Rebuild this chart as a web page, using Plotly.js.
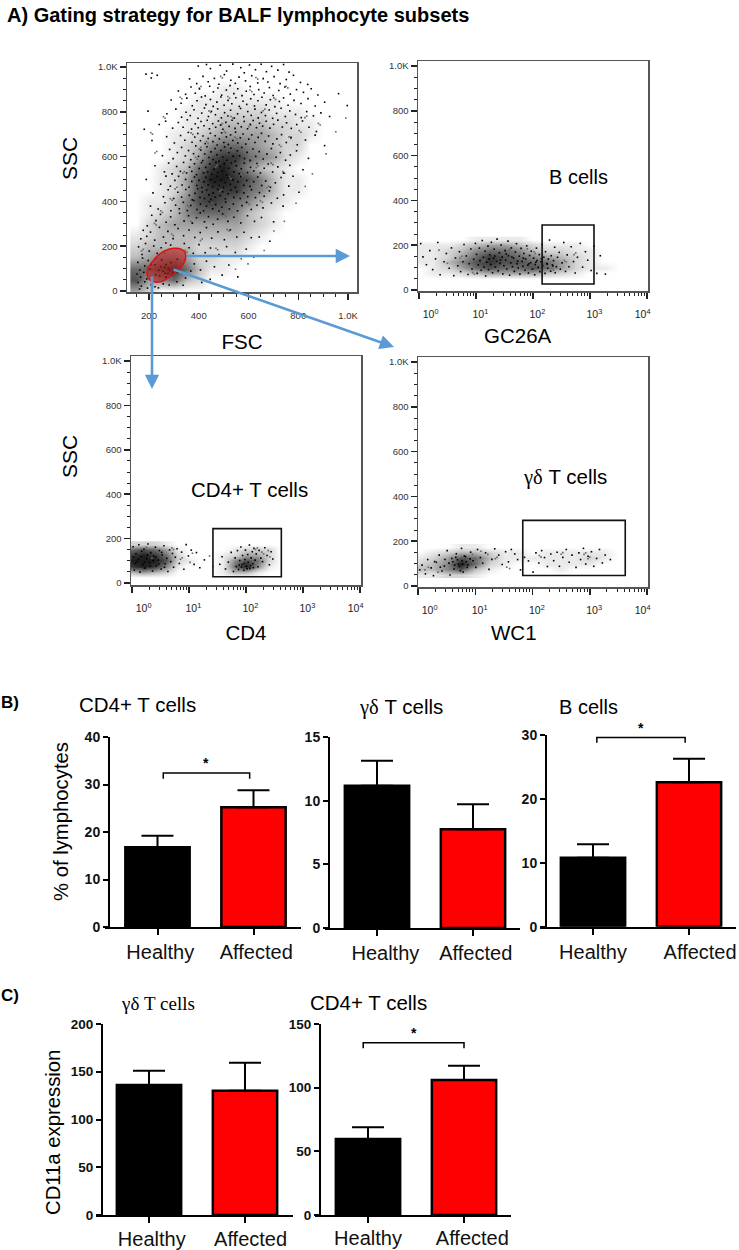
<!DOCTYPE html>
<html><head><meta charset="utf-8">
<script src="https://cdn.plot.ly/plotly-3.0.1.min.js"></script>
<style>html,body{margin:0;padding:0;background:#fff}</style></head>
<body><div id="chart" style="width:739px;height:1250px"></div>
<script>
// ---------- flow cytometry panels: density read by eye (0-9) and visible dots ----------
const fscCols=[150,200,250,300,350,400,450,500,550,600,650,700,750,800,850,900,950,1000];
const fscRows=[1000,950,900,850,800,750,700,650,600,550,500,450,400,350,300,250,200,150,100,50,0];
const fscDensity=["000000000000000000","000000000000000000","000000011000000000","000001111111000000","000011122221110000","000011233332211000","000112344443221000","000123566543220000","000124788654210000","001236897532100000","001247998753110000","001247888653110000","011357876532100000","012356665321000000","023444444321000000","123333333210000000","233332222100000000","345542211000000000","667863110000000000","745632000000000000","420000000000000000"];
const fscDots=[[398,1004],[431,1011],[447,993],[486,1008],[512,982],[537,1013],[569,997],[583,974],[604,1009],[628,988],[651,1012],[672,979],[693,1003],[718,986],[741,1011],[763,977],[212,972],[188,968],
[209,951],[233,963],[363,947],[392,926],[417,958],[438,934],[463,949],[481,923],[503,966],[529,941],[547,927],[562,955],[588,938],[613,961],[637,929],[659,948],[678,933],[703,957],[727,926],[752,944],[781,963],[809,931],[838,922],
[318,893],[347,878],[369,911],[386,883],[403,902],[426,871],[444,914],[459,889],[477,906],[492,874],[511,897],[526,917],[541,881],[557,903],[574,872],[591,892],[607,913],[622,877],[641,899],[663,884],[684,908],[699,873],[722,895],[746,911],[768,879],[793,899],[821,887],[852,903],[879,875],[962,881],
[289,853],[329,838],[352,861],[374,827],[393,849],[411,866],[429,832],[447,855],[458,824],[473,843],[489,866],[502,829],[518,851],[533,836],[549,863],[563,824],[578,847],[593,833],[609,858],[624,826],[638,849],[654,865],[671,831],[688,854],[706,823],[724,846],[741,862],[759,829],[783,851],[811,837],[839,859],[868,826],[906,843],[997,828],
[196,803],[272,791],[308,812],[331,776],[349,798],[366,783],[381,809],[397,771],[412,794],[423,817],[439,779],[451,802],[467,787],[476,813],[491,773],[504,796],[517,781],[528,807],[543,772],[556,791],[568,815],[581,778],[597,801],[611,784],[626,812],[639,773],[652,797],[668,783],[683,808],[697,771],[713,793],[731,816],[748,779],[766,804],[789,788],[812,774],[834,801],[861,782],[891,795],[926,779],
[181,722],[241,743],[267,758],[295,727],[318,752],[337,731],[354,764],[371,723],[386,746],[398,729],[409,757],[421,738],[434,762],[443,724],[456,747],[468,731],[479,759],[488,741],[497,722],[509,753],[522,735],[534,762],[546,726],[558,748],[571,733],[583,757],[596,724],[607,744],[619,761],[632,729],[644,749],[657,736],[671,758],[686,727],[701,744],[718,763],[736,732],[753,751],[772,726],[794,743],[817,759],[843,731],[873,712],
[212,672],[271,689],[302,661],[327,694],[344,673],[358,708],[373,664],[384,687],[396,703],[407,671],[417,692],[426,658],[438,681],[447,704],[457,667],[466,693],[474,652],[483,679],[492,706],[501,663],[511,688],[519,654],[528,697],[537,672],[548,709],[557,661],[567,684],[578,701],[589,656],[601,678],[613,697],[626,663],[639,686],[652,704],[667,668],[681,692],[698,657],[714,679],[733,698],[752,663],[771,686],[796,653],[829,674],[868,696],
[254,604],[283,632],[297,591],[314,618],[331,641],[346,603],[359,627],[368,586],[379,613],[388,648],[399,601],[408,629],[416,582],[424,612],[433,644],[441,596],[449,621],[458,587],[466,636],[473,608],[481,579],[489,627],[496,598],[504,643],[513,584],[521,618],[529,637],[538,602],[546,579],[555,626],[564,604],[573,641],[584,591],[594,619],[606,583],[618,634],[629,601],[643,622],[659,589],[674,611],[692,636],[711,597],[728,618],[749,584],[768,607],[793,626],[841,592],[906,649],
[224,559],[262,532],[279,571],[293,523],[311,556],[326,534],[339,574],[351,527],[363,553],[372,534],[383,568],[391,519],[402,547],[411,573],[419,527],[428,552],[436,531],[444,567],[452,521],[461,543],[469,574],[477,529],[486,556],[494,536],[503,569],[512,518],[521,548],[531,572],[541,532],[551,559],[562,524],[571,546],[583,571],[596,529],[608,552],[621,536],[634,569],[648,527],[663,548],[679,567],[697,531],[718,554],[741,526],[766,561],[819,541],
[189,498],[247,477],[268,513],[286,468],[304,494],[319,512],[333,473],[347,498],[361,463],[372,489],[383,509],[392,471],[401,494],[412,462],[421,487],[429,508],[438,474],[447,497],[456,466],[464,486],[473,512],[482,471],[491,494],[499,463],[507,484],[518,507],[527,476],[538,496],[547,463],[558,487],[569,511],[581,472],[593,493],[606,467],[621,488],[637,509],[653,471],[669,491],[688,463],[708,483],[731,507],[779,512],[762,468],
[216,438],[258,421],[277,452],[299,413],[316,441],[331,419],[348,453],[362,427],[374,407],[385,436],[396,457],[405,418],[414,442],[423,413],[432,451],[441,429],[449,408],[458,437],[467,419],[476,454],[486,426],[496,443],[507,411],[518,434],[529,451],[541,418],[553,442],[567,413],[581,438],[597,421],[612,452],[628,417],[644,439],[663,423],[684,447],[716,414],[741,429],[803,441],
[206,379],[237,366],[264,394],[288,358],[307,383],[322,367],[338,396],[354,359],[368,382],[381,404],[393,364],[407,388],[419,358],[431,379],[443,399],[456,367],[468,386],[481,357],[493,374],[508,397],[523,366],[539,388],[556,358],[574,381],[592,396],[611,364],[634,383],[658,371],[692,393],[739,379],
[211,338],[193,291],[228,314],[246,342],[269,307],[287,331],[304,296],[323,347],[341,312],[359,336],[374,303],[391,327],[406,349],[423,309],[439,332],[458,298],[476,321],[496,344],[517,311],[541,329],[569,304],[596,336],[624,311],[652,328],[701,309],
[167,233],[177,271],[191,244],[206,263],[223,227],[242,284],[258,241],[276,266],[297,234],[317,279],[339,247],[361,272],[384,239],[406,261],[431,283],[452,236],[477,264],[503,229],[527,273],[553,241],[582,262],[611,238],[643,241],[686,222],
[158,197],[172,163],[186,212],[201,178],[219,201],[233,168],[249,193],[268,214],[287,205],[342,212],[361,193],[378,168],[401,207],[426,171],[447,192],[481,163],[512,198],[547,172],[591,187],[621,152],
[155,128],[163,94],[174,147],[183,112],[197,136],[208,119],[152,76],[166,62],[179,83],[191,54],[204,97],[156,38],[169,22],[183,41],[194,13],[208,28],[224,19],[162,9],[238,14],[257,32],[281,27],[312,41],[347,58],[368,89],[382,121],[407,94],[431,133],[463,108],[494,71],[521,116],[557,63],[446,52],[412,38],[337,26],
[224,117],[239,93],[251,138],[263,106],[276,78],[288,127],[301,96],[314,142],[243,67],[268,62],[291,71],[315,83],[227,72],[256,88],[278,101],[296,84],[269,118],[283,92],[247,109],[265,79]];
const fscDotsGrey=[[503,712],[508,706],[431,667],[437,659],[562,641],[555,634],[387,597],[394,589],[612,583],[604,577],[468,553],[474,561],[522,508],[529,501],[398,462],[391,455],[586,447],[579,453],[447,401],[455,394],[361,376],[354,382],[648,402],[656,396],[517,623],[524,630],[423,539],[416,547],[571,519],[577,512],[491,451],[484,444],[342,533],[336,526],[631,551],[638,558],[456,612],[449,605],[546,687],[553,680],[402,634],[409,641],[691,571],[698,564],[488,741],[495,748],[376,699],[369,706],[602,734],[609,741],[537,772],[530,779],[441,804],[448,797],[666,812],[659,805],[312,463],[305,456],[286,412],[293,405],[724,652],[731,645],[763,688],[770,681],[811,709],[804,716],[247,358],[254,351],[222,302],[229,295],[368,311],[375,304],[433,352],[426,345],[504,338],[511,331],[596,393],[603,386],[681,468],[674,461],[738,533],[745,526],[298,247],[291,254],[414,232],[407,225],[521,268],[514,275],[353,174],[346,181],[476,184],[469,191],
[517,868],[524,861],[606,897],[613,890],[702,862],[709,855],[751,914],[758,907],[834,781],[827,774],[888,741],[881,748],[637,946],[630,953],[488,958],[495,951],[409,913],[402,906],[332,858],[325,865],[265,771],[258,778],[207,707],[214,700],[231,623],[224,616],[177,186],[170,179],[193,109],[186,102],[211,62],[204,69],[167,47],[160,54],[232,148],[225,141],[263,168],[256,175],[328,122],[335,115],[548,97],[571,144],[598,121],[663,181],[702,268],[744,311],[791,392],[828,467],[857,523],[912,612],[951,711],[991,772]];
const gateOutlineX=[346,333,299,259,219,192,205,246,299,340,346];
const gateOutlineY=[170,185,191,177,139,86,48,41,76,124,170];

const gcCols=[0,.25,.5,.75,1,1.25,1.5,1.75,2,2.25,2.5,2.75,3,3.25,3.5];
const gcRows=[225,200,175,150,125,100,75,50];
const gcDensity=["000011110000000","111234432111000","112356653221100","112468765432100","113578776642100","012467667642110","011234444321000","000000000000000"];
const gcDots=[[.03,207],[.07,148],[.13,113],[.19,176],[.24,91],[.29,139],[.33,212],[.37,68],[.44,126],[.48,163],[.53,97],[.57,188],[.61,64],[.64,143],[.68,108],[.71,171],[.73,82],[.77,126],[.79,203],[.83,152],[.86,69],[.88,117],[.91,183],[.93,94],[.96,137],[.99,208],[1.01,159],[1.02,74],[1.04,112],[1.06,187],[1.07,131],[1.09,88],[1.11,221],[1.13,146],[1.14,102],[1.16,173],[1.17,63],[1.19,124],[1.21,196],[1.22,91],[1.24,157],[1.26,114],[1.27,213],[1.29,77],[1.31,141],[1.32,182],[1.34,103],[1.36,128],[1.37,227],[1.39,86],[1.41,166],[1.42,119],[1.44,201],[1.46,147],[1.47,72],[1.49,108],[1.51,176],[1.52,133],[1.54,94],[1.56,218],[1.57,153],[1.59,66],[1.61,121],[1.62,188],[1.64,104],[1.66,142],[1.67,83],[1.69,169],[1.71,207],[1.72,117],[1.74,98],[1.76,151],[1.77,71],[1.79,186],[1.81,128],[1.82,106],[1.84,163],[1.86,88],[1.87,138],[1.89,197],[1.91,111],[1.92,76],[1.94,154],[1.96,122],[1.97,173],[1.99,93],[2.01,142],[2.03,68],[2.04,114],[2.06,187],[2.07,131],[2.09,101],[2.11,158],[2.12,82],[2.14,126],[2.16,203],[2.17,109],[2.19,146],[2.21,74],[2.22,171],[2.24,118],[2.26,97],[2.27,138],[2.29,223],[2.31,84],[2.32,153],[2.34,112],[2.36,131],[2.38,191],[2.39,77],[2.41,104],[2.43,146],[2.46,168],[2.48,93],[2.51,121],[2.54,212],[2.57,83],[2.6,157],[2.63,104],[2.67,193],[2.71,127],[2.74,76],[2.78,146],[2.83,208],[2.87,102],[2.92,171],[2.96,133],[3.02,87],[3.07,196],[3.12,74],[3.18,153],[3.27,71],[1.23,138],[1.33,152],[1.43,134],[1.53,161],[1.63,147],[1.73,129],[1.83,142],[1.93,117],[2.05,124],[2.15,139],[2.25,116],[2.35,107]];
const gcDotsGrey=[[1.12,127],[1.15,134],[1.28,172],[1.3,164],[1.45,103],[1.48,97],[1.58,176],[1.6,183],[1.78,112],[1.8,104],[2.02,171],[2.04,163],[2.33,96],[2.36,89],[.72,143],[.75,151],[.94,78],[.97,71],[2.55,132],[2.58,126],[2.72,158],[2.75,166],[1.7,86],[1.38,82],[1.9,184],[.5,119],[.35,178]];

const cdCols=[0,.2,.4,.6,.8,1,1.2,1.4,1.6,1.8,2,2.2,2.4,2.6,2.8];
const cdRows=[175,150,125,100,75,50,25];
const cdDensity=["222100000000000","676410000122200","898620001244200","999721001576200","898510001695100","343200001331000","000000000000000"];
const cdDots=[[.02,163],[.04,58],[.07,131],[.09,97],[.12,172],[.14,49],[.16,118],[.19,83],[.21,152],[.23,67],[.26,109],[.28,176],[.31,91],[.33,137],[.36,54],[.38,121],[.41,161],[.43,78],[.46,103],[.48,146],[.51,63],[.53,127],[.56,168],[.58,87],[.61,111],[.63,52],[.66,149],[.68,96],[.71,133],[.73,71],[.76,116],[.79,154],[.83,88],[.87,139],[.91,62],[.95,173],[.99,122],[1.04,148],[1.09,84],[1.13,137],[1.19,69],[1.27,104],[1.58,118],[1.64,63],[1.69,94],[1.74,138],[1.54,84],[1.78,52],[1.81,113],[1.83,74],[1.85,146],[1.87,61],[1.89,101],[1.91,162],[1.93,83],[1.94,124],[1.96,57],[1.98,106],[1.99,148],[2.01,76],[2.03,128],[2.04,93],[2.06,171],[2.07,66],[2.09,113],[2.11,141],[2.12,87],[2.14,156],[2.16,103],[2.18,131],[2.21,73],[2.23,147],[2.26,112],[2.29,96],[2.33,159],[2.37,124],[2.41,82],[2.44,141],[2.47,108],[.06,88],[.11,107],[.17,143],[.22,94],[.27,127],[.32,76],[.37,101],[.42,116],[.47,86],[.52,138],[.57,71],[.03,117],[1.92,72],[1.97,88],[2.02,64],[2.08,79],[2.13,69],[1.88,81]];
const cdDotsGrey=[[.7,158],[.73,151],[.85,107],[.88,114],[1.02,93],[1.06,134],[1.36,122],[1.42,74],[2.17,151],[2.2,158],[2.28,139],[2.31,131],[2.39,146],[2.42,117],[.15,63],[.25,161],[.35,112],[.45,68]];

const wcCols=[0,.25,.5,.75,1,1.25,1.5,1.75,2,2.25,2.5,2.75,3,3.25,3.5];
const wcRows=[175,150,125,100,75,50];
const wcDensity=["000110000000000","012332110111110","124763111111210","235962100111100","335731000010000","112210000000000"];
const wcDots=[[.03,72],[.07,93],[.13,54],[.17,118],[.23,81],[.27,46],[.32,106],[.37,138],[.42,67],[.46,89],[.51,158],[.56,49],[.59,123],[.63,76],[.67,144],[.71,98],[.76,168],[.79,62],[.83,131],[.87,94],[.92,151],[.96,113],[1.01,83],[1.04,163],[1.09,127],[1.13,102],[1.18,148],[1.24,74],[1.29,119],[1.34,166],[1.41,138],[1.47,96],[1.53,153],[1.58,108],[1.63,163],[1.69,143],[1.74,118],[1.79,72],[1.86,128],[1.93,112],[2.01,62],[2.06,148],[2.11,103],[2.16,158],[2.21,127],[2.26,87],[2.32,143],[2.37,113],[2.43,151],[2.47,88],[2.53,128],[2.59,163],[2.64,106],[2.69,138],[2.76,83],[2.81,148],[2.84,118],[2.89,168],[2.93,98],[2.97,133],[3.03,153],[3.07,88],[3.12,123],[3.17,163],[3.22,103],[3.27,138],[3.36,118],[.61,108],[.66,128],[.72,87],[.77,113],[.81,134],[.86,83],[.91,121],[.74,68],[.54,102],[.47,118],[.39,84],[.29,109],[.69,117],[.78,98],[.84,108],[.64,93]];
const wcDotsGrey=[[2.9,141],[2.93,148],[2.97,122],[3,129],[2.12,136],[2.15,129],[2.5,142],[2.53,149],[1.35,122],[1.38,128],[1.55,84],[1.6,78],[.12,72],[.18,84],[.35,62],[.95,142],[1.1,155],[1.22,141]];

// ---------- gates (axis values) ----------
const gcGate=[2.16,3.07,27,290];
const cdGate=[1.42,2.62,28,245];
const wcGate=[1.83,3.62,47,293];

// ---------- bar panels ----------
const groups=["Healthy","Affected"];
const cd4Pct=[16.8,25.2], cd4PctErr=[2.4,3.6];
const gdPct=[11.18,7.75], gdPctErr=[1.96,1.96];
const bPct=[10.8,22.6], bPctErr=[2.1,3.7];
const gdCd11=[136,130], gdCd11Err=[15,29.5];
const cd4Cd11=[59.7,106], cd4Cd11Err=[9.2,11.3];
const cd4Bracket=[[.06,.06,.96,.96],[31.2,32.4,32.4,31.2]];
const bBracket=[[.04,.04,.96,.96],[28.8,29.6,29.6,28.8]];
const cd4Cd11Bracket=[[-.05,-.05,1,1],[131,135.3,135.3,131]];

// ---------- layout helpers ----------
const W=739,H=1250,FONT='"Liberation Sans",Arial,sans-serif';
const PX=p=>p/W, PY=p=>1-p/H;
const rng=(pa,va,pb,vb,p0,p1)=>{const k=(vb-va)/(pb-pa);return [va+(p0-pa)*k,va+(p1-pa)*k];};
const layout={width:W,height:H,margin:{l:0,r:0,t:0,b:0},paper_bgcolor:'#fff',plot_bgcolor:'#fff',showlegend:false,
  font:{family:FONT,color:'#000'},
  title:{text:'<b>A) Gating strategy for BALF lymphocyte subsets</b>',x:PX(7),xanchor:'left',y:PY(15),yanchor:'middle',font:{size:20,family:FONT,color:'#000'}},
  annotations:[],shapes:[]};
const traces=[];
const txt=(text,x,y,size,extra)=>layout.annotations.push(Object.assign({text,x:PX(x),y:PY(y),xref:'paper',yref:'paper',showarrow:false,xanchor:'center',yanchor:'middle',font:{size,family:FONT,color:'#000'}},extra||{}));
const arrow=(tx,ty,hx,hy)=>layout.annotations.push({text:'',x:PX(hx),y:PY(hy),xref:'paper',yref:'paper',ax:tx-hx,ay:ty-hy,showarrow:true,arrowhead:2,arrowsize:1.1,arrowwidth:2.6,arrowcolor:'#5b9bd5',standoff:0,startstandoff:0});
const grey=[[0,'#ffffff'],[.25,'#d0d0d0'],[.6,'#7c7c7c'],[1,'#1c1c1c']];
const zOf=s=>s.map(r=>r.split('').map(Number));
const logMinor=[];for(let d=0;d<4;d++)for(let m=2;m<10;m++)logMinor.push(d+Math.log10(m));

function flowPanel(i,f){
  const xn=i===1?'xaxis':'xaxis'+i, yn=i===1?'yaxis':'yaxis'+i, xr='x'+(i===1?'':i), yr='y'+(i===1?'':i);
  const base={showgrid:false,zeroline:false,showline:true,mirror:true,linecolor:'#555',linewidth:1.5,ticks:'outside',tickcolor:'#222',tickwidth:1.5,ticklen:6,tickfont:{size:9.5,color:'#333',family:FONT}};
  layout[xn]=Object.assign({},base,{domain:[PX(f.x0),PX(f.x1)],anchor:yr,range:f.xr,title:f.xt?{text:f.xt,font:{size:20.5,family:FONT},standoff:f.xs}:undefined},f.xa);
  layout[yn]=Object.assign({},base,{domain:[PY(f.y1),PY(f.y0)],anchor:xr,range:f.yr,tickvals:[0,200,400,600,800,1000],ticktext:['0','200','400','600','800','1.0K'],minor:{dtick:50,ticks:'outside',ticklen:3,tickcolor:'#222',tickwidth:1}});
  traces.push({type:'heatmap',x:f.cols,y:f.rows,z:zOf(f.den),xaxis:xr,yaxis:yr,zmin:0,zmax:9,zsmooth:'best',colorscale:grey,showscale:false,hoverinfo:'skip'});
  traces.push({type:'scatter',mode:'markers',x:f.grey.map(d=>d[0]),y:f.grey.map(d=>d[1]),xaxis:xr,yaxis:yr,marker:{symbol:'square',size:1.6,color:'#666'},hoverinfo:'skip'});
  traces.push({type:'scatter',mode:'markers',x:f.dots.map(d=>d[0]),y:f.dots.map(d=>d[1]),xaxis:xr,yaxis:yr,marker:{symbol:'square',size:1.6,color:'#000'},hoverinfo:'skip'});
  if(f.gate)layout.shapes.push({type:'rect',xref:xr,yref:yr,x0:f.gate[0],x1:f.gate[1],y0:f.gate[2],y1:f.gate[3],line:{color:'#111',width:1.6}});
}
const logAxis=()=>({tickvals:[0,1,2,3,4],ticktext:[0,1,2,3,4].map(n=>'&nbsp;'.repeat([8,3,3,3,0][n])+'10<sup>'+n+'</sup>'+'&nbsp;'.repeat(n===4?3:0)),ticklabelstandoff:7,tickfont:{size:10.5,color:'#222',family:FONT},minor:{tickvals:logMinor,ticks:'outside',ticklen:3,tickcolor:'#222',tickwidth:1}});
flowPanel(1,{x0:127,x1:357,y0:63,y1:292,xr:rng(149,200,348,1000,127,357),yr:rng(291,0,67,1000,292,63),cols:fscCols,rows:fscRows,den:fscDensity,dots:fscDots,grey:fscDotsGrey,xt:'FSC',xs:14,
 xa:{tickvals:[200,400,600,800,1000],ticktext:['200','400','600','800','1.0K'],ticklabelstandoff:8,minor:{dtick:50,ticks:'outside',ticklen:3,tickcolor:'#222',tickwidth:1}}});
traces.push({type:'scatter',mode:'lines',x:gateOutlineX,y:gateOutlineY,line:{color:'#e01010',width:1.5,shape:'spline'},fill:'toself',fillcolor:'rgba(190,20,20,.55)',hoverinfo:'skip'});
flowPanel(2,{x0:418,x1:648,y0:61,y1:291,xr:rng(419,0,647,4,418,648),yr:rng(290,0,66,1000,291,61),cols:gcCols,rows:gcRows,den:gcDensity,dots:gcDots,grey:gcDotsGrey,gate:gcGate,xa:logAxis()});
flowPanel(3,{x0:131,x1:361,y0:356,y1:585,xr:rng(132,0,360,4,131,361),yr:rng(583,0,361,1000,585,356),cols:cdCols,rows:cdRows,den:cdDensity,dots:cdDots,grey:cdDotsGrey,gate:cdGate,xt:'CD4',xs:12,xa:logAxis()});
flowPanel(4,{x0:418,x1:648,y0:357,y1:587,xr:rng(418,0,647,4,418,648),yr:rng(586,0,362,1000,587,357),cols:wcCols,rows:wcRows,den:wcDensity,dots:wcDots,grey:wcDotsGrey,gate:wcGate,xa:logAxis()});

function barPanel(i,f){
  const xn='xaxis'+i,yn='yaxis'+i,xr='x'+i,yr='y'+i;
  layout[xn]={domain:[PX(f.x0),PX(f.x1)],anchor:yr,range:rng(f.c0,0,f.c1,1,f.x0,f.x1),tickvals:[0,1],ticktext:groups.map((g,k)=>'&nbsp;'.repeat(f.pad[k])+g),showgrid:false,zeroline:false,showline:true,linecolor:'#000',linewidth:2,ticks:'outside',ticklen:6,tickwidth:2,tickcolor:'#000',ticklabelstandoff:f.ls,tickfont:{size:20,family:FONT,color:'#111'}};
  layout[yn]={domain:[PY(f.yb),PY(f.yt)],anchor:'free',position:PX(f.ax),range:[0,f.max],tickvals:f.ticks,showgrid:false,zeroline:false,showline:true,linecolor:'#000',linewidth:2,ticks:'outside',ticklen:5,tickwidth:2,tickcolor:'#000',tickfont:{size:f.tf,family:FONT,color:'#111',weight:'bold'}};
  traces.push({type:'bar',x:[0,1],y:f.vals,xaxis:xr,yaxis:yr,width:.67,marker:{color:['#000000','#ff0000'],line:{color:'#000',width:2.5}},error_y:{type:'data',symmetric:false,array:f.errs,arrayminus:[0,0],color:'#000',thickness:2,width:16},hoverinfo:'y'});
  if(f.br){traces.push({type:'scatter',mode:'lines',x:f.br[0],y:f.br[1],xaxis:xr,yaxis:yr,line:{color:'#000',width:1.5},hoverinfo:'skip'});
    layout.annotations.push({text:'<b>*</b>',xref:xr,yref:yr,x:(f.br[0][0]+f.br[0][3])/2,y:f.br[1][1],yanchor:'bottom',yshift:f.ss||0,showarrow:false,font:{size:14,family:FONT,color:'#000'}});}
}
barPanel(5,{x0:105,x1:301,c0:157.5,c1:253.5,ax:109,yt:737,yb:927,max:40,ticks:[0,10,20,30,40],vals:cd4Pct,errs:cd4PctErr,br:cd4Bracket,pad:[1,1],ls:0,tf:14});
barPanel(6,{x0:325,x1:520,c0:377,c1:473,ax:329,yt:737,yb:928,max:15,ticks:[0,5,10,15],vals:gdPct,errs:gdPctErr,pad:[3,1],ls:0,tf:14});
barPanel(7,{x0:540,x1:736,c0:593,c1:689,ax:546,yt:735,yb:926.7,max:30,ticks:[0,10,20,30],vals:bPct,errs:bPctErr,br:bBracket,pad:[0,4],ls:0,tf:14});
barPanel(8,{x0:96,x1:293,c0:149,c1:245,ax:102,yt:1024,yb:1215,max:200,ticks:[0,50,100,150,200],vals:gdCd11,errs:gdCd11Err,pad:[1,2],ls:-1,tf:13.5});
barPanel(9,{x0:315,x1:511,c0:368,c1:464,ax:320,yt:1024,yb:1215,max:150,ticks:[0,50,100,150],vals:cd4Cd11,errs:cd4Cd11Err,br:cd4Cd11Bracket,pad:[0,3],ls:-2,tf:13.5});

// ---------- free text ----------
const gd='<span style="font-family:\'Liberation Serif\'">γδ</span> T cells';
txt('B cells',578,177,20);
txt('CD4+ T cells',249.5,489,20.5);
txt(gd,565,477,20.5);
txt('<b>B)</b>',10,702,17);
txt('CD4+ T cells',137.5,705,20.5);
txt(gd,401,707,20.5);
txt('B cells',588,707,20);
txt('<b>C)</b>',10,995,17);
txt('<span style="font-family:\'Liberation Serif\'">γδ T cells</span>',158,1003,19);
txt('CD4+ T cells',368,1002,20.5);
// axis captions that sit off-centre from their axes in the figure
txt('SSC',70,159,21,{textangle:-90});
txt('SSC',70,457,21,{textangle:-90});
txt('GC26A',518,336,20.5);
txt('WC1',514,632,20.5);
txt('% of lymphocytes',61,822,20.3,{textangle:-90});
txt('CD11a expression',53,1132,20.3,{textangle:-90});
arrow(186,256,350,256);
arrow(152,275,152,389);
arrow(172,269,394,347);

Plotly.newPlot('chart',traces,layout,{staticPlot:true,displayModeBar:false});
</script></body></html>
